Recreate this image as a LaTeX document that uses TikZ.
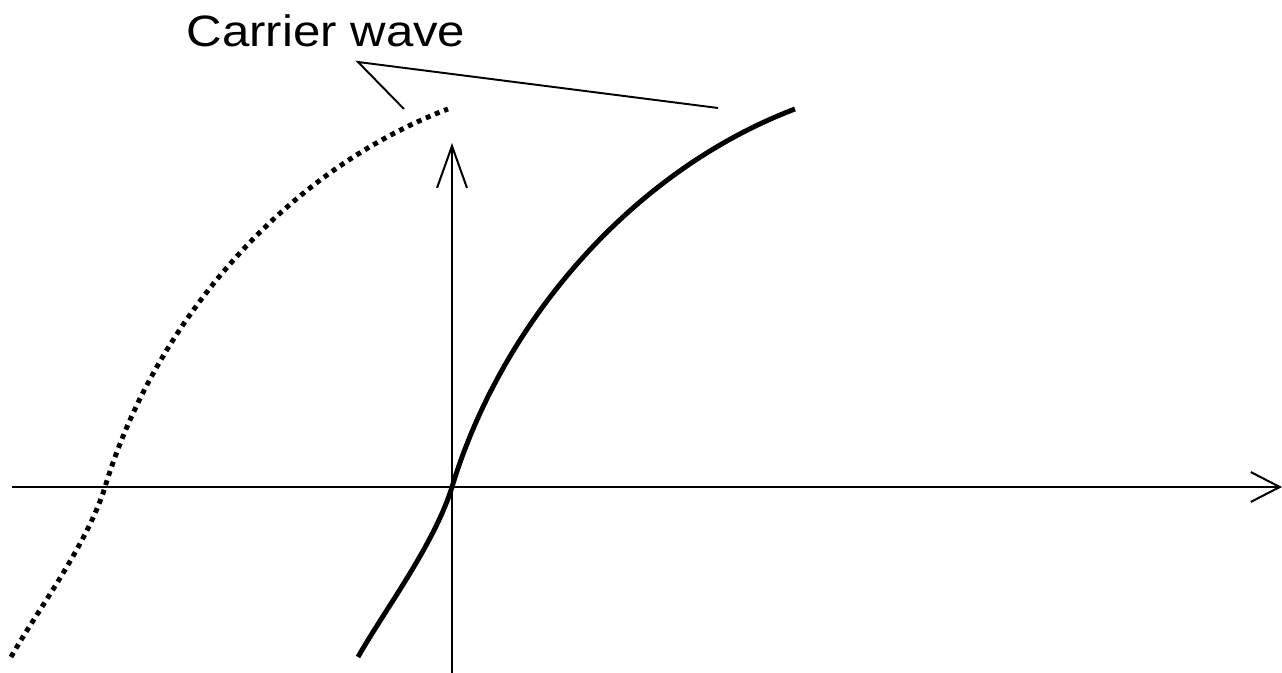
\documentclass[tikz,border=0pt]{standalone}
\usepackage{fontspec}
\setmainfont{Liberation Sans}
\usepackage{tikz}
\usetikzlibrary{arrows.meta,positioning}
\definecolor{wavegray}{RGB}{0,0,0}
\tikzset{
  axis/.style={line width=1.15pt, draw=wavegray},
  axisX/.style={axis, -{Straight Barb[length=16.5pt, width=17pt]}},
  axisY/.style={axis, -{Straight Barb[length=23.8pt, width=17pt]}},
  carrier/.style={line width=2.8pt, draw=wavegray},
  carrierdot/.style={carrier, dash pattern=on 2.8pt off 2.8pt},
  leader/.style={line width=1.1pt, draw=wavegray},
  caption/.style={font=\fontsize{25}{30}\selectfont, inner sep=0pt}
}
% one quarter of the wave, origin at the zero crossing
\newcommand{\carrierpath}{(-94,-170) .. controls (-68,-124) and (-18,-58) .. (0,0)
  .. controls (50,165) and (180,316) .. (343,378)}

\begin{document}
\begin{tikzpicture}[x=0.02cm, y=0.02cm]
  \useasboundingbox (0,0) rectangle (1282,673);

  % axes
  \coordinate (xstart) at (12,186);
  \coordinate (xend) at (1282,186);
  \coordinate (ystart) at (452,0);
  \coordinate (yend) at (452,530);
  \draw[axisX] (xstart) -- (xend);
  \draw[axisY] (ystart) -- (yend);

  % carrier waves
  \draw[carrier, shift={(452,186)}] \carrierpath;
  \draw[carrierdot, shift={(105,186)}] \carrierpath;

  % label
  \node[caption, anchor=base] (carrierlbl) at (326,626)
    {\scalebox{1.12}[1]{Carrier wave}};
  \coordinate (apex) at (358,611);
  \coordinate (dotend) at (404,564);
  \coordinate (solidend) at (718,565);
  \draw[leader] (dotend) -- (apex) -- (solidend);
\end{tikzpicture}
\end{document}
